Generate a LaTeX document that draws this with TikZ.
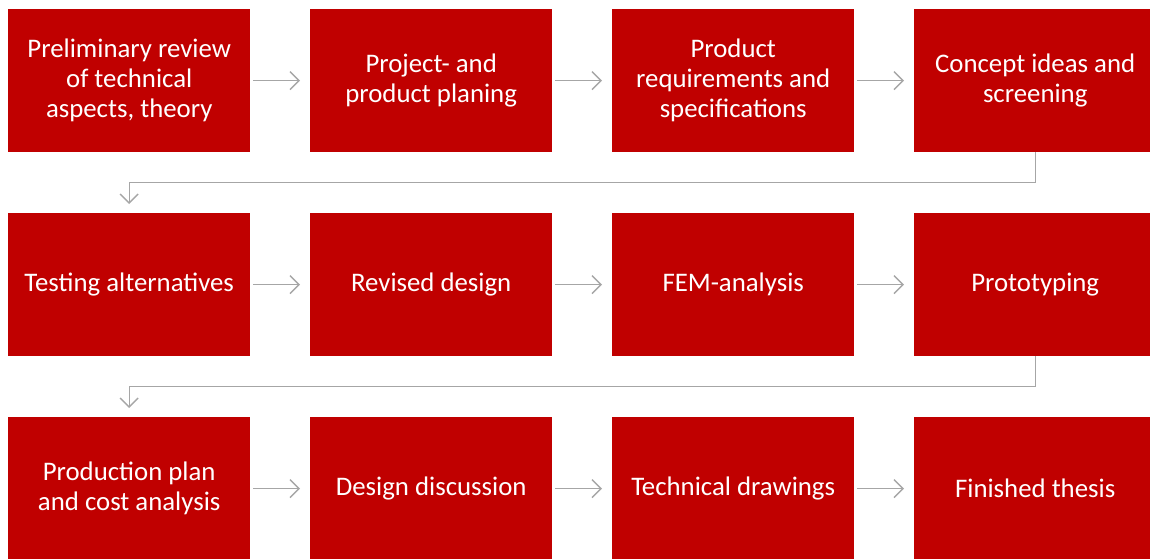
\documentclass[tikz,border=0pt]{standalone}
\usepackage{fontspec}
\setmainfont{Carlito}
\usetikzlibrary{arrows.meta,calc}
\definecolor{boxred}{HTML}{C00000}
\definecolor{conngray}{HTML}{A6A6A6}
\begin{document}
\begin{tikzpicture}[x=1pt,y=-1pt,
  stepbox/.style={fill=boxred,draw=none,text=white,minimum width=242pt,minimum height=143pt,
    anchor=north west,align=center,inner sep=0pt,font=\fontsize{26.8}{30}\selectfont},
  conn/.style={draw=conngray,line width=1.4pt,-{Straight Barb[length=9pt,width=18pt,line width=1.4pt]}}]
\useasboundingbox (0,0) rectangle (1150,558);
\fill[white] (0,0) rectangle (1150,558);
% row 1
\node[stepbox] (b1) at (8,9) {Preliminary review\\of technical\\aspects, theory};
\node[stepbox] (b2) at (310,9) {Project- and\\product planing};
\node[stepbox] (b3) at (612,9) {Product\\requirements and\\specifications};
\node[stepbox] (b4) at (914,9) {Concept ideas and\\screening};
% row 2
\node[stepbox] (b5) at (8,213) {Testing alternatives};
\node[stepbox] (b6) at (310,213) {Revised design};
\node[stepbox] (b7) at (612,213) {FEM-analysis};
\node[stepbox] (b8) at (914,213) {Prototyping};
% row 3
\node[stepbox] (b9) at (8,417) {Production plan\\and cost analysis};
\node[stepbox] (b10) at (310,417) {Design discussion};
\node[stepbox] (b11) at (612,417) {Technical drawings};
\node[stepbox] (b12) at (914,417) {Finished thesis};
% horizontal connectors
\foreach \a/\b in {b1/b2,b2/b3,b3/b4,b5/b6,b6/b7,b7/b8,b9/b10,b10/b11,b11/b12}{
  \draw[conn] ([xshift=3pt]\a.east) -- ([xshift=-10pt]\b.west);
}
% row-wrap connectors
\coordinate (m1) at ($(b4.south)!0.5!(b5.north)$);
\draw[conn] (b4.south) -- (b4.south |- m1) -| ([yshift=9pt]b5.north);
\coordinate (m2) at ($(b8.south)!0.5!(b9.north)$);
\draw[conn] (b8.south) -- (b8.south |- m2) -| ([yshift=9pt]b9.north);
\end{tikzpicture}
\end{document}
